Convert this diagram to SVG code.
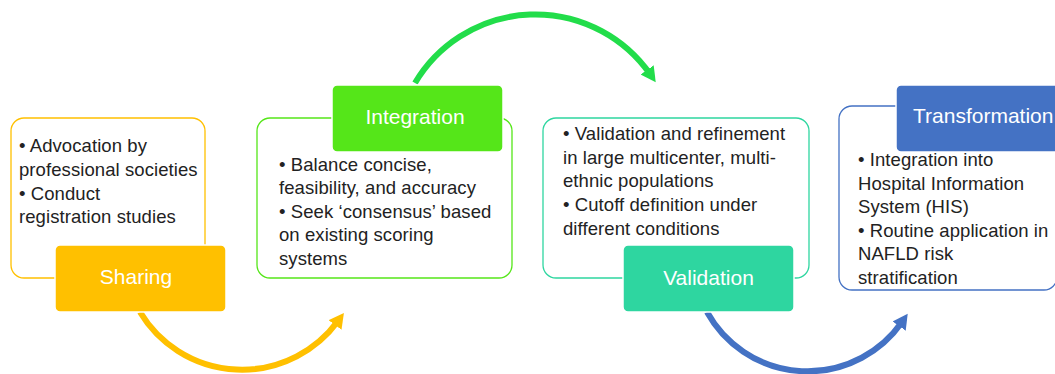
<svg xmlns="http://www.w3.org/2000/svg" width="1055" height="374" viewBox="0 0 1055 374">
<style>
.body{font-family:"Liberation Sans",Arial,Helvetica,sans-serif;font-size:18.5px;letter-spacing:0.08px;fill:#222}
.lab{font-family:"Liberation Sans",Arial,Helvetica,sans-serif;font-size:21px;fill:#fff}
.box{fill:#fff;stroke-width:1.3}
.arc{fill:none;stroke-width:6}
</style>
<defs>
<marker id="ay" markerUnits="userSpaceOnUse" markerWidth="18" markerHeight="18" refX="5" refY="8" orient="auto"><path d="M0,0 L15,8 L0,16 z" fill="#FFC000"/></marker>
<marker id="ag" markerUnits="userSpaceOnUse" markerWidth="18" markerHeight="18" refX="5" refY="8" orient="auto"><path d="M0,0 L15,8 L0,16 z" fill="#22DD4A"/></marker>
<marker id="ab" markerUnits="userSpaceOnUse" markerWidth="18" markerHeight="18" refX="5" refY="8" orient="auto"><path d="M0,0 L15,8 L0,16 z" fill="#4472C4"/></marker>
</defs>
<g id="connectors">
<path class="arc" stroke="#FFC000" d="M140,312 A119,119 0 0 0 338,321" marker-end="url(#ay)"/>
<path class="arc" stroke="#22DD4A" d="M415,83 A140,140 0 0 1 650,74" marker-end="url(#ag)"/>
<path class="arc" stroke="#4472C4" d="M707,312 A115,115 0 0 0 902,322" marker-end="url(#ab)"/>
</g>
<g id="sharing">
<rect class="box" x="11" y="118" width="194" height="160" rx="13" stroke="#FFC000"/>
<text class="body" x="19" y="152">• Advocation by</text>
<text class="body" x="19" y="176">professional societies</text>
<text class="body" x="19" y="200">• Conduct</text>
<text class="body" x="19" y="223">registration studies</text>
<rect x="55" y="245" width="171" height="67" rx="5" fill="#FFC000" stroke="#fff" stroke-width="1.5"/>
<text class="lab" x="136" y="284" text-anchor="middle">Sharing</text>
</g>
<g id="integration">
<rect class="box" x="257" y="118" width="255" height="160" rx="13" stroke="#55E619"/>
<text class="body" x="279" y="171">• Balance concise,</text>
<text class="body" x="279" y="194">feasibility, and accuracy</text>
<text class="body" x="279" y="218">• Seek ‘consensus’ based</text>
<text class="body" x="279" y="241">on existing scoring</text>
<text class="body" x="279" y="265">systems</text>
<rect x="332" y="85" width="171" height="67" rx="5" fill="#55E619" stroke="#fff" stroke-width="1.5"/>
<text class="lab" x="415" y="124" text-anchor="middle">Integration</text>
</g>
<g id="validation">
<rect class="box" x="543" y="118" width="266" height="160" rx="13" stroke="#2ED6A0"/>
<text class="body" x="563" y="140">• Validation and refinement</text>
<text class="body" x="563" y="163.5">in large multicenter, multi-</text>
<text class="body" x="563" y="187">ethnic populations</text>
<text class="body" x="563" y="211">• Cutoff definition under</text>
<text class="body" x="563" y="234.5">different conditions</text>
<rect x="623" y="245" width="171" height="67" rx="5" fill="#2ED6A0" stroke="#fff" stroke-width="1.5"/>
<text class="lab" x="708.5" y="285" text-anchor="middle">Validation</text>
</g>
<g id="transformation">
<rect class="box" x="839" y="106" width="218" height="184" rx="13" stroke="#4472C4"/>
<text class="body" x="858" y="166">• Integration into</text>
<text class="body" x="858" y="189.6">Hospital Information</text>
<text class="body" x="858" y="213.2">System (HIS)</text>
<text class="body" x="858" y="236.8">• Routine application in</text>
<text class="body" x="858" y="260.4">NAFLD risk</text>
<text class="body" x="858" y="284">stratification</text>
<rect x="896" y="85" width="170" height="67" rx="5" fill="#4472C4" stroke="#fff" stroke-width="1.5"/>
<text class="lab" x="913" y="123">Transformation</text>
</g>
</svg>
